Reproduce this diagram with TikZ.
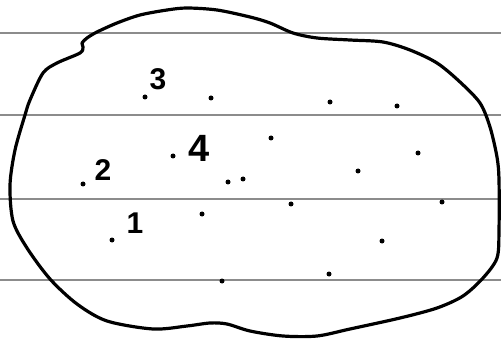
\documentclass[tikz,border=0pt]{standalone}
\usepackage{fontspec}
\setmainfont{Liberation Sans}
\begin{document}
\begin{tikzpicture}[x=1pt,y=-1pt,
  rule/.style={draw=black!45,line width=1.2pt},
  blob/.style={draw=black,line width=3.2pt,line join=round},
  pt/.style={circle,fill=black,inner sep=0pt,minimum size=5pt},
  num/.style={inner sep=0pt,font=\fontsize{30}{30}\selectfont\bfseries}]
\useasboundingbox (0,0) rectangle (501,342);
\fill[white] (0,0) rectangle (501,342);
\coordinate (l1a) at (0,33); \coordinate (l1b) at (501,33);
\coordinate (l2a) at (0,115); \coordinate (l2b) at (501,115);
\coordinate (l3a) at (0,199); \coordinate (l3b) at (501,199);
\coordinate (l4a) at (0,280); \coordinate (l4b) at (501,280);
\draw[rule] (l1a) -- (l1b);
\draw[rule] (l2a) -- (l2b);
\draw[rule] (l3a) -- (l3b);
\draw[rule] (l4a) -- (l4b);
\draw[blob] plot[smooth cycle,tension=0.5] coordinates {
 (10,185) (13,221) (27,248) (50,279) (77,304) (107,321) (153,329) (187,326)
 (210,323) (227,324) (250,331) (283,336) (317,336) (350,329) (400,318)
 (437,308) (463,296) (483,278) (497,258) (499,230) (499,180) (497,157)
 (490,127) (480,103) (460,82) (437,63) (410,50) (383,42) (350,40) (317,38)
 (293,33) (270,23) (250,17) (217,10) (187,8) (167,10) (140,15) (117,23)
 (97,32) (87,38) (82,43) (83,47) (80,53) (57,63) (43,73) (30,100) (25,115) (15,150)};
% labels
\node[num] (n3) at (158,79) {3};
\node[num,font=\fontsize{38}{38}\selectfont\bfseries] (n4) at (199,148) {4};
\node[num] (n2) at (103,170) {2};
\node[num] (n1) at (135,223) {1};
% dots
\node[pt] (d1) at (145,97) {};
\node[pt] (d2) at (211,98) {};
\node[pt] (d3) at (330,102) {};
\node[pt] (d4) at (397,106) {};
\node[pt] (d5) at (173,156) {};
\node[pt] (d6) at (271,138) {};
\node[pt] (d7) at (418,153) {};
\node[pt] (d8) at (358,171) {};
\node[pt] (d9) at (83,184) {};
\node[pt] (d10) at (228,182) {};
\node[pt] (d11) at (243,179) {};
\node[pt] (d12) at (202,214) {};
\node[pt] (d13) at (112,240) {};
\node[pt] (d14) at (291,204) {};
\node[pt] (d15) at (442,202) {};
\node[pt] (d16) at (382,241) {};
\node[pt] (d17) at (329,274) {};
\node[pt] (d18) at (222,281) {};
\end{tikzpicture}
\end{document}
